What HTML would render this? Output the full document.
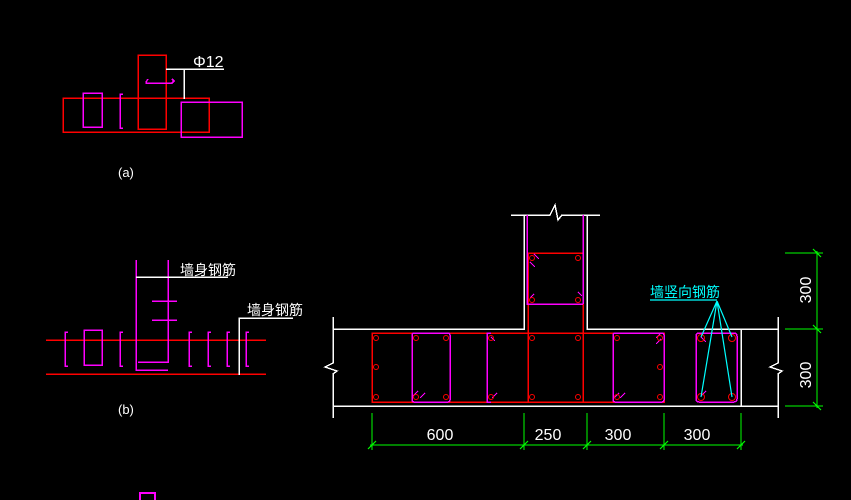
<!DOCTYPE html>
<html><head><meta charset="utf-8"><style>
html,body{margin:0;padding:0;background:#000;}
svg{display:block}
text{font-family:"Liberation Sans","Noto Sans CJK SC",sans-serif;}
</style></head><body>
<svg width="851" height="500" viewBox="0 0 851 500" xmlns="http://www.w3.org/2000/svg" shape-rendering="crispEdges">
<rect width="851" height="500" fill="#000"/>
<g fill="none" stroke-width="1.5">
<!-- (a) -->
<rect x="63" y="98" width="146" height="34" stroke="#f00"/>
<rect x="138" y="55" width="28" height="74" stroke="#f00"/>
<rect x="83" y="93" width="19" height="34" stroke="#f0f"/>
<path d="M123 94 h-3 v34 h3" stroke="#f0f"/>
<rect x="181" y="102" width="61" height="35" stroke="#f0f"/>
<path d="M148 79 l-2 3 v1 h26 l2 -2 -2 -2" stroke="#f0f"/>
<path d="M166 69 H224 M184 69 V99" stroke="#fff"/>
<!-- (b) -->
<path d="M46 340 H266 M46 374 H266" stroke="#f00"/>
<path d="M136 260 V370 H168 M168 260 V362 H138" stroke="#f0f"/>
<path d="M152 301 h25 M152 320 h25" stroke="#f0f"/>
<rect x="84" y="330" width="18" height="35" stroke="#f0f"/>
<path d="M68 332 h-3 v34 h3 M123 332 h-3 v34 h3 M192 332 h-3 v34 h3 M211 332 h-3 v34 h3 M230 332 h-3 v34 h3 M249 332 h-3 v34 h3" stroke="#f0f"/>
<path d="M136 277 H228 M239 375 V318 H293" stroke="#fff"/>
<rect x="140" y="493" width="15" height="10" stroke="#f0f" stroke-width="2"/>
<!-- main white outline -->
<path d="M333 317 V363 l-8 4 12 4 -4 3 V418" stroke="#fff"/>
<path d="M333 329 H524 V215 M511 215 H550 l5 -10 3 15 4 -5 H600 M587 215 V329 H778" stroke="#fff"/>
<path d="M333 406 H778 M778 317 V363 l-8 4 12 4 -4 3 V418 M741 329 V406" stroke="#fff"/>
<!-- red -->
<path d="M372 333 H664 V402 H372 Z M528 253 H583 V402 M528 253 V402" stroke="#f00"/>
<!-- magenta -->
<path d="M527 215 V304 H583 M583 215 V304" stroke="#f0f"/>
<rect x="412" y="333" width="38" height="69" rx="2" stroke="#f0f"/>
<path d="M491 333 h-4 v69 h4" stroke="#f0f"/>
<rect x="613" y="333" width="51" height="69" rx="2" stroke="#f0f"/>
<rect x="696" y="333" width="41" height="69" rx="3" stroke="#f0f"/>
<path d="M413 396 l5 -5 M420 398 l5 -5 M491 337 l4 4 M492 398 l5 -5 M530 298 l4 -4 M578 292 l4 4 M530 262 l5 5 M534 254 l5 5 M614 398 l5 -5 M620 398 l5 -5 M656 344 l5 -5 M656 338 l5 -5 M701 396 l5 -5 M701 337 l5 5" stroke="#f0f" stroke-width="1"/>
</g>
<g fill="none" stroke="#f00" stroke-width="1" shape-rendering="auto">
<circle cx="376" cy="338" r="2.5"/><circle cx="376" cy="367" r="2.5"/><circle cx="376" cy="397" r="2.5"/>
<circle cx="416" cy="338" r="2.5"/><circle cx="446" cy="338" r="2.5"/><circle cx="416" cy="397" r="2.5"/><circle cx="446" cy="397" r="2.5"/>
<circle cx="491" cy="338" r="2.5"/><circle cx="491" cy="397" r="2.5"/>
<circle cx="532" cy="338" r="2.5"/><circle cx="578" cy="338" r="2.5"/><circle cx="532" cy="397" r="2.5"/><circle cx="578" cy="397" r="2.5"/>
<circle cx="532" cy="258" r="2.5"/><circle cx="578" cy="258" r="2.5"/><circle cx="532" cy="300" r="2.5"/><circle cx="578" cy="300" r="2.5"/>
<circle cx="617" cy="338" r="2.5"/><circle cx="660" cy="338" r="2.5"/><circle cx="660" cy="367" r="2.5"/><circle cx="617" cy="397" r="2.5"/><circle cx="660" cy="397" r="2.5"/>
<circle cx="701" cy="338" r="3.5"/><circle cx="732" cy="338" r="3.5"/><circle cx="701" cy="397" r="3.5"/><circle cx="732" cy="397" r="3.5"/>
</g>
<!-- cyan leader -->
<g stroke="#0ff" stroke-width="1.2" fill="none" shape-rendering="auto">
<path d="M650 300 H717 M717 301 L701 337 M717 301 L732 337 M717 301 L701 397 M717 301 L732 397"/>
</g>
<!-- dims -->
<g stroke="#0f0" stroke-width="1.3" fill="none">
<path d="M370 445 H743 M372 413 V450 M524 413 V450 M587 413 V450 M664 413 V450 M741 413 V450"/>
<path d="M785 253 H823 M785 329 H823 M785 406 H823 M817 251 V408"/>
</g>
<g stroke="#0f0" stroke-width="1.2" fill="none" shape-rendering="auto">
<path d="M368 449 l8 -8 M520 449 l8 -8 M583 449 l8 -8 M660 449 l8 -8 M737 449 l8 -8"/>
<path d="M813 249 l8 8 M813 325 l8 8 M813 402 l8 8"/>
</g>
<g fill="#fff" font-size="15">
<text x="193" y="67" font-size="16" transform="scale(1,1)">Φ12</text>
<text x="118" y="177" font-size="13">(a)</text>
<text x="118" y="414" font-size="13">(b)</text>
<text x="180" y="275" font-size="14">墙身钢筋</text>
<text x="247" y="315" font-size="14">墙身钢筋</text>
<g transform="translate(0,0)">
<text x="440" y="440" text-anchor="middle" font-size="16">600</text>
<text x="548" y="440" text-anchor="middle" font-size="16">250</text>
<text x="618" y="440" text-anchor="middle" font-size="16">300</text>
<text x="697" y="440" text-anchor="middle" font-size="16">300</text>
</g>
<text transform="translate(811,290) rotate(-90)" text-anchor="middle" font-size="16">300</text>
<text transform="translate(811,375) rotate(-90)" text-anchor="middle" font-size="16">300</text>
</g>
<text x="650" y="297" fill="#0ff" font-size="14">墙竖向钢筋</text>
</svg>
</body></html>
